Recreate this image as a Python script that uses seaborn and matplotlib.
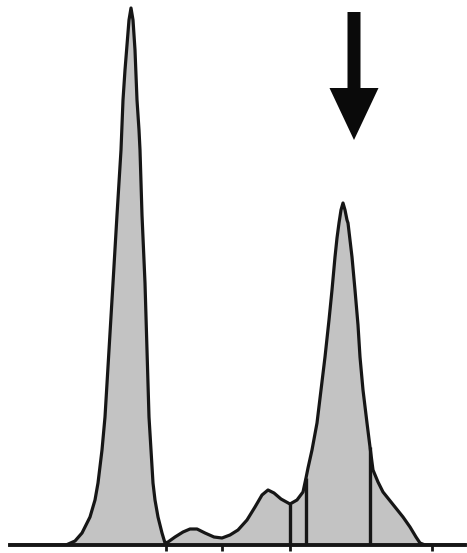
import numpy as np
import pandas as pd
import matplotlib
matplotlib.use("Agg")
import matplotlib.pyplot as plt
import seaborn as sns

# DNA content histogram: channel vs. cell count
channel = [10, 66, 75, 82, 90, 95, 98, 102, 105, 109, 113, 117, 121, 123, 125, 127,
           129, 131, 133, 135, 137, 139, 140, 142, 145, 147, 149, 151, 153, 155, 158,
           162, 165, 168, 175, 183, 190, 197, 205, 214, 222, 230, 238, 247, 255, 262,
           268, 274, 281, 290, 297, 303, 306, 308, 312, 317, 321, 325, 329, 332, 335,
           337, 339, 341, 343, 345, 347, 348, 350, 352, 355, 358, 360, 363, 367, 370,
           373, 378, 383, 387, 395, 403, 410, 416, 420, 425, 465]
count = [0, 0, 4, 12, 28, 45, 62, 95, 128, 195, 262, 330, 395, 445, 475, 500,
         525, 537, 525, 495, 445, 415, 395, 330, 262, 195, 128, 95, 62, 45, 28,
         12, 2, 3, 8, 13, 16, 16, 12, 8, 7, 10, 15, 25, 38, 50,
         55, 52, 46, 41, 45, 53, 67, 77, 95, 122, 155, 188, 225, 255, 288,
         307, 322, 335, 342, 335, 325, 322, 305, 288, 255, 220, 188, 155, 122, 98,
         75, 63, 53, 48, 38, 28, 18, 8, 2, 0, 0]

# Gate boundaries and axis ticks
gates = [290, 306, 370]
ticks = [166, 222, 290, 432]

# Arrow marking the second peak
arrow_x = 354
arrow_top, arrow_tip = 533, 405

df = pd.DataFrame({"channel": channel, "count": count})

sns.set_style("white")
fig = plt.figure(figsize=(4.67, 5.53), dpi=100)
ax = fig.add_axes([0, 8 / 553, 1, 545 / 553])

ax.fill_between(df["channel"], df["count"], 0, color="#c3c3c3", lw=0, zorder=1)
sns.lineplot(data=df, x="channel", y="count", sort=False, estimator=None,
             color="#161616", lw=2.3, ax=ax, zorder=3)

# gate lines rise from the baseline to the histogram outline
gate_h = np.interp(gates, channel, count)
ax.vlines(gates, 0, gate_h, color="#161616", lw=2.4, zorder=4)

ax.arrow(arrow_x, arrow_top, 0, arrow_tip - arrow_top, width=13, head_width=49,
         head_length=52, length_includes_head=True, color="#0a0a0a", lw=0, zorder=5)

ax.set_xlim(0, 467)
ax.set_ylim(0, 545)
ax.set_xticks(ticks)
ax.set_xticklabels([])
ax.set_yticks([])
ax.set_xlabel("")
ax.set_ylabel("")
ax.tick_params(axis="x", direction="out", length=4, width=2, color="#161616", bottom=True)
for side in ["top", "left", "right"]:
    ax.spines[side].set_visible(False)
ax.spines["bottom"].set_bounds(10, 465)
ax.spines["bottom"].set_linewidth(2.8)
ax.spines["bottom"].set_color("#161616")
ax.spines["bottom"].set_zorder(6)
ax.patch.set_alpha(0)

fig.savefig("out.png", dpi=100, facecolor="white")
